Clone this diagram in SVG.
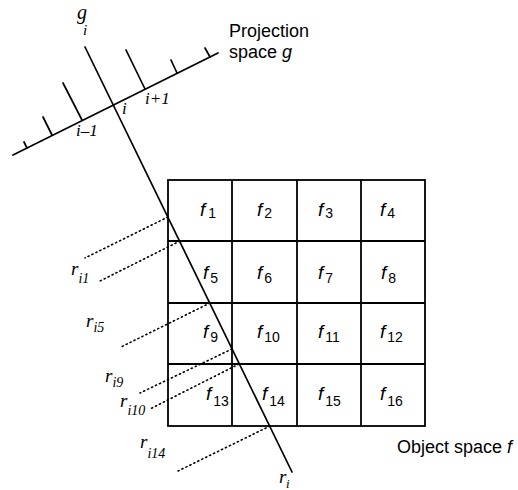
<svg xmlns="http://www.w3.org/2000/svg" width="518" height="490" viewBox="0 0 518 490">
<style>
.ln{stroke:#000;stroke-width:1.7;fill:none;stroke-linecap:round}
.dot{stroke:#000;stroke-width:1.6;fill:none;stroke-dasharray:1.2 3.2;stroke-linecap:round}
.grid{stroke:#000;stroke-width:1.8;fill:none}
.sans{font-family:"Liberation Sans",Arial,sans-serif;fill:#000}
.fl{font-family:"Liberation Sans",Arial,sans-serif;font-style:italic;font-size:19px;fill:#000}
.fs{font-family:"Liberation Sans",Arial,sans-serif;font-style:normal;font-size:14px}
.ser{font-family:"Liberation Serif","Times New Roman",serif;font-style:italic;fill:#000}
</style>
<rect width="518" height="490" fill="#fff"/>
<g id="projection-axis">
  <line class="ln" x1="13" y1="155" x2="218" y2="53"/>
  <line class="ln" x1="27" y1="148" x2="24" y2="142"/>
  <line class="ln" x1="52" y1="135" x2="43" y2="117"/>
  <line class="ln" x1="82" y1="120" x2="63" y2="83"/>
  <line class="ln" x1="145" y1="89" x2="126" y2="50"/>
  <line class="ln" x1="177" y1="73" x2="171" y2="60"/>
  <line class="ln" x1="210" y1="57" x2="205" y2="48"/>
  <text class="ser" x="76" y="136" font-size="17">i–1</text>
  <text class="ser" x="122" y="114" font-size="17">i</text>
  <text class="ser" x="145" y="104" font-size="17">i+1</text>
  <text class="sans" x="229" y="37" font-size="18">Projection</text>
  <text class="sans" x="229" y="58" font-size="18">space <tspan font-style="italic">g</tspan></text>
</g>
<g id="object-grid">
  <rect class="grid" x="168" y="180" width="257" height="246"/>
  <line class="grid" x1="232" y1="180" x2="232" y2="426"/>
  <line class="grid" x1="297" y1="180" x2="297" y2="426"/>
  <line class="grid" x1="361" y1="180" x2="361" y2="426"/>
  <line class="grid" x1="168" y1="241" x2="425" y2="241"/>
  <line class="grid" x1="168" y1="303" x2="425" y2="303"/>
  <line class="grid" x1="168" y1="364" x2="425" y2="364"/>
  <text class="fl" x="200" y="216">f<tspan class="fs" dx="3" dy="2">1</tspan></text>
  <text class="fl" x="257" y="216">f<tspan class="fs" dx="2" dy="2">2</tspan></text>
  <text class="fl" x="318" y="216">f<tspan class="fs" dx="2" dy="2">3</tspan></text>
  <text class="fl" x="380" y="216">f<tspan class="fs" dx="2" dy="2">4</tspan></text>
  <text class="fl" x="203" y="279">f<tspan class="fs" dx="2" dy="4">5</tspan></text>
  <text class="fl" x="257" y="279">f<tspan class="fs" dx="2" dy="4">6</tspan></text>
  <text class="fl" x="318" y="279">f<tspan class="fs" dx="2" dy="4">7</tspan></text>
  <text class="fl" x="381" y="279">f<tspan class="fs" dx="2" dy="4">8</tspan></text>
  <text class="fl" x="203" y="338">f<tspan class="fs" dx="2" dy="4">9</tspan></text>
  <text class="fl" x="257" y="338">f<tspan class="fs" dx="2" dy="4">10</tspan></text>
  <text class="fl" x="318" y="338">f<tspan class="fs" dx="2" dy="4">11</tspan></text>
  <text class="fl" x="380" y="338">f<tspan class="fs" dx="2" dy="4">12</tspan></text>
  <text class="fl" x="206" y="400">f<tspan class="fs" dx="2" dy="6">13</tspan></text>
  <text class="fl" x="262" y="400">f<tspan class="fs" dx="2" dy="6">14</tspan></text>
  <text class="fl" x="318" y="400">f<tspan class="fs" dx="2" dy="6">15</tspan></text>
  <text class="fl" x="380" y="400">f<tspan class="fs" dx="2" dy="6">16</tspan></text>
  <text class="sans" x="397" y="453" font-size="18">Object space <tspan font-style="italic">f</tspan></text>
</g>
<g id="ray">
  <line class="ln" x1="85" y1="47" x2="292" y2="472"/>
  <text class="ser" x="77" y="19" font-size="20">g</text>
  <text class="ser" x="83" y="35" font-size="15">i</text>
  <text class="ser" x="279" y="483" font-size="19">r</text>
  <text class="ser" x="286" y="488" font-size="13">i</text>
</g>
<g id="connectors">
  <line class="dot" x1="168" y1="217" x2="85" y2="258"/>
  <line class="dot" x1="180" y1="241" x2="98" y2="282"/>
  <line class="dot" x1="210" y1="303" x2="121" y2="347"/>
  <line class="dot" x1="232" y1="349" x2="140" y2="393"/>
  <line class="dot" x1="239" y1="364" x2="150" y2="409"/>
  <line class="dot" x1="270" y1="426" x2="178" y2="471"/>
</g>
<g id="ray-labels">
  <text class="ser" x="71" y="275" font-size="19">r<tspan font-size="14" dx="0" dy="8">i1</tspan></text>
  <text class="ser" x="86" y="327" font-size="19">r<tspan font-size="14" dx="0" dy="5">i5</tspan></text>
  <text class="ser" x="105" y="382" font-size="19">r<tspan font-size="14" dx="0" dy="5">i9</tspan></text>
  <text class="ser" x="120" y="407" font-size="19">r<tspan font-size="14" dx="0" dy="8">i10</tspan></text>
  <text class="ser" x="140" y="448" font-size="19">r<tspan font-size="14" dx="0" dy="10">i14</tspan></text>
</g>
</svg>
